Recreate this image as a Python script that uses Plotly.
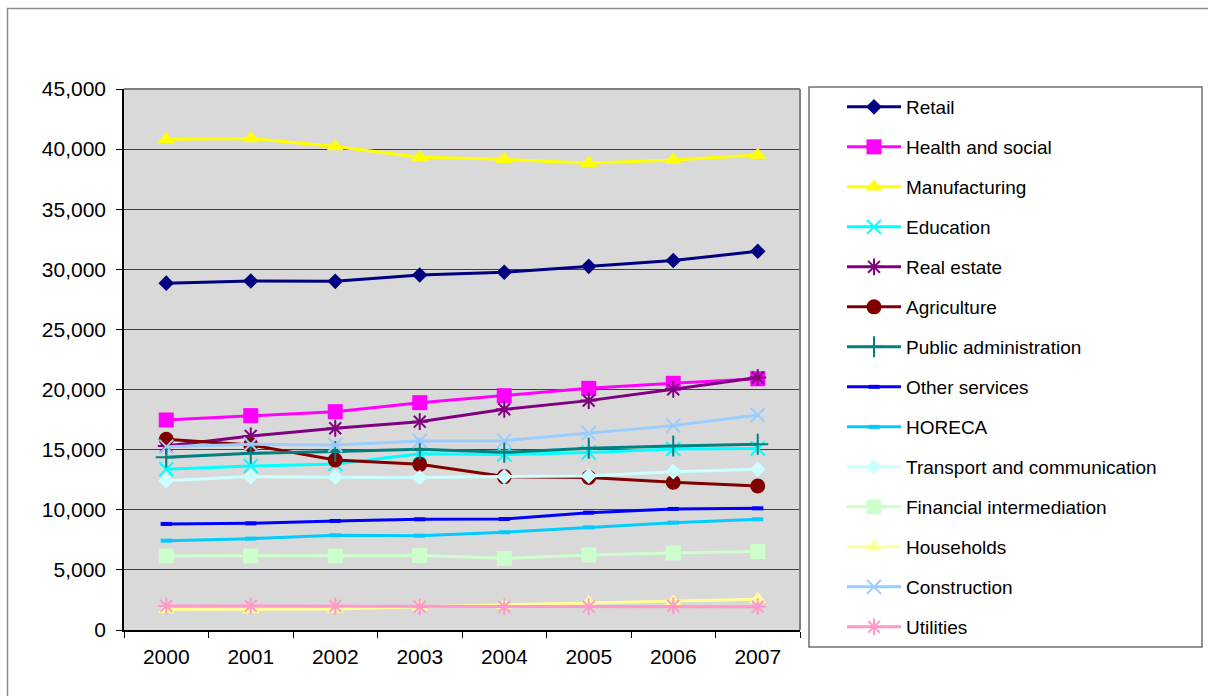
import plotly.graph_objects as go

years = ["2000", "2001", "2002", "2003", "2004", "2005", "2006", "2007"]

retail = [28850, 29030, 29000, 29530, 29760, 30250, 30730, 31500]
health_social = [17470, 17830, 18160, 18910, 19490, 20100, 20520, 20900]
manufacturing = [40820, 40880, 40210, 39320, 39150, 38820, 39100, 39520]
education = [13370, 13640, 13810, 14650, 14600, 14760, 15060, 15100]
real_estate = [15300, 16140, 16780, 17330, 18360, 19080, 20020, 21000]
agriculture = [15860, 15390, 14140, 13780, 12760, 12680, 12290, 11980]
public_admin = [14370, 14700, 14840, 15030, 14780, 15110, 15310, 15450]
other_services = [8820, 8870, 9070, 9210, 9230, 9760, 10070, 10120]
horeca = [7430, 7600, 7880, 7850, 8130, 8540, 8930, 9210]
transport_comm = [12420, 12760, 12700, 12680, 12760, 12810, 13170, 13370]
financial = [6160, 6160, 6160, 6190, 5960, 6240, 6410, 6520]
households = [1700, 1700, 1740, 1940, 2080, 2270, 2360, 2550]
construction = [15250, 15450, 15390, 15720, 15750, 16360, 17000, 17890]
utilities = [2000, 2000, 2000, 1940, 1940, 1940, 2000, 1940]

series = [
    ("Retail", retail, "#000080", "diamond", 12, None),
    ("Health and social", health_social, "#FF00FF", "square", 15, None),
    ("Manufacturing", manufacturing, "#FFFF00", "triangle-up", 15, None),
    ("Education", education, "#00FFFF", "x-thin-open", 14, 2),
    ("Real estate", real_estate, "#800080", "asterisk-open", 14, 2),
    ("Agriculture", agriculture, "#800000", "circle", 15, None),
    ("Public administration", public_admin, "#008080", "cross-thin-open", 15, 2),
    ("Other services", other_services, "#0000FF", "line-ew-open", 8, 4),
    ("HORECA", horeca, "#00CCFF", "line-ew-open", 8, 4),
    ("Transport and communication", transport_comm, "#CCFFFF", "diamond", 12, None),
    ("Financial intermediation", financial, "#CCFFCC", "square", 15, None),
    ("Households", households, "#FFFF99", "triangle-up", 15, None),
    ("Construction", construction, "#99CCFF", "x-thin-open", 14, 2),
    ("Utilities", utilities, "#FF99CC", "asterisk-open", 14, 2),
]

fig = go.Figure()
for name, vals, color, symbol, size, lw in series:
    marker = dict(symbol=symbol, size=size, color=color)
    if lw is not None:
        marker["line"] = dict(color=color, width=lw)
    else:
        marker["line"] = dict(width=0)
    fig.add_trace(go.Scatter(
        x=years, y=vals, name=name, legendgroup=name,
        mode="lines+markers",
        line=dict(color=color, width=3),
        marker=marker,
    ))

W, H = 1208, 696
L, R, T, B = 124, 800, 89, 630
pw, ph = R - L, B - T

def px_x(x):
    return (x - L) / pw

def px_y(y):
    return (B - y) / ph

fig.update_layout(
    width=W, height=H,
    margin=dict(l=L, r=W - R, t=T, b=H - B, pad=0),
    paper_bgcolor="white",
    plot_bgcolor="#D9D9D9",
    font=dict(family="Liberation Sans, Arial, sans-serif", color="black"),
    showlegend=True,
    legend=dict(
        x=px_x(842), y=px_y(88), xanchor="left", yanchor="top",
        bgcolor="rgba(0,0,0,0)", borderwidth=0,
        font=dict(size=19, color="black"),
        tracegroupgap=12.3,
        itemwidth=54,
        traceorder="grouped",
    ),
    xaxis=dict(
        type="category",
        tickson="boundaries",
        ticks="outside", ticklen=6, tickcolor="black",
        showline=True, linecolor="black", linewidth=1.5,
        mirror=False,
        showgrid=False,
        tickfont=dict(size=21, color="black"),
        ticklabelstandoff=7,
        range=[-0.5, 7.5],
        fixedrange=True,
    ),
    yaxis=dict(
        range=[0, 45000],
        dtick=5000,
        tickformat=",",
        ticks="outside", ticklen=6, tickcolor="black",
        showline=True, linecolor="black", linewidth=1.5,
        showgrid=True, gridcolor="#404040", gridwidth=1,
        zeroline=False,
        tickfont=dict(size=21, color="black"),
        ticklabelstandoff=6,
        fixedrange=True,
    ),
)
try:
    fig.update_layout(legend_maxheight=640)
except Exception:
    pass

shapes = []
# outer chart border
shapes.append(dict(type="rect", xref="paper", yref="paper",
                   x0=px_x(7.5), x1=px_x(1230), y0=px_y(720), y1=px_y(8.5),
                   line=dict(color="#8C8C8C", width=1.5), fillcolor="rgba(0,0,0,0)", layer="below"))
# plot area top/right border
shapes.append(dict(type="line", xref="paper", yref="paper",
                   x0=0, x1=1, y0=1, y1=1, line=dict(color="#808080", width=2)))
shapes.append(dict(type="line", xref="paper", yref="paper",
                   x0=1, x1=1, y0=0, y1=1, line=dict(color="#808080", width=2)))
# legend box
shapes.append(dict(type="rect", xref="paper", yref="paper",
                   x0=px_x(809), x1=px_x(1202), y0=px_y(647), y1=px_y(87),
                   line=dict(color="#707070", width=1.5), fillcolor="white", layer="below"))
fig.update_layout(shapes=shapes)

fig.write_html("out.html", config={"displayModeBar": False},
               post_script="document.body.style.margin='0px';")
